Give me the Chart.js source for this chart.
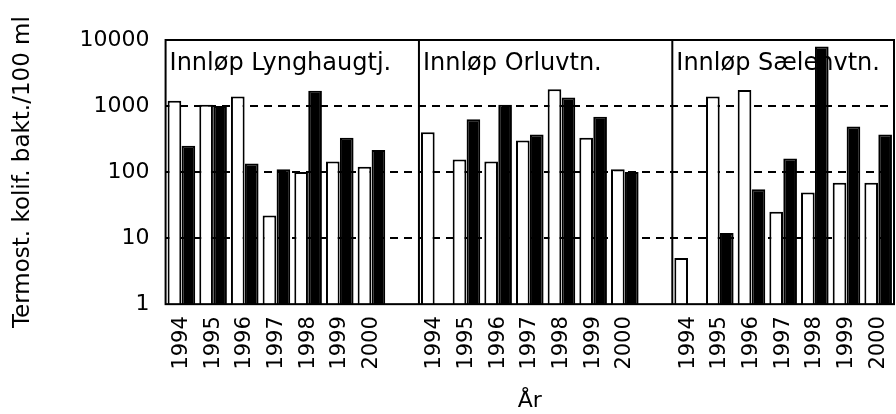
<!DOCTYPE html>
<html>
<head>
<meta charset="utf-8">
<script src="https://cdn.jsdelivr.net/npm/chart.js@4.4.0/dist/chart.umd.min.js"></script>
<style>
html, body { margin: 0; padding: 0; background: #fff; }
#wrap { width: 896px; height: 414px; }
</style>
</head>
<body>
<div id="wrap"><canvas id="myChart"></canvas></div>
<script>
// Termostabile koliforme bakterier per innløp, 1994-2000
const years = ['1994', '1995', '1996', '1997', '1998', '1999', '2000'];
const panelNames = ['Innløp Lynghaugtj.', 'Innløp Orluvtn.', 'Innløp Sælenvtn.'];
const yTicks = [1, 10, 100, 1000, 10000];

const whiteLyng = [1200, 1050, 1400, 22, 100, 145, 120];
const blackLyng = [250, 1000, 135, 110, 1700, 330, 215];
const whiteOrlu = [400, 155, 145, 300, 1800, 330, 110];
const blackOrlu = [null, 630, 1050, 370, 1350, 690, 100];
const whiteSael = [5, 1400, 1750, 25, 49, 69, 69];
const blackSael = [null, 12, 55, 160, 8000, 490, 370];

// one shared category axis, with an empty slot between the inlets
const labels = [].concat(years, [''], years, [''], years);
const whiteData = [].concat(whiteLyng, [null], whiteOrlu, [null], whiteSael);
const blackData = [].concat(blackLyng, [null], blackOrlu, [null], blackSael);

const FONT = 'DejaVu Sans';

const panels = {
    id: 'panels',
    beforeDatasetsDraw(chart) {
        const ctx = chart.ctx, x = chart.scales.x, a = chart.chartArea;
        const band = x.getPixelForValue(1) - x.getPixelForValue(0);
        ctx.save();
        ctx.font = '24px "' + FONT + '"';
        ctx.fillStyle = '#000';
        ctx.textBaseline = 'alphabetic';
        panelNames.forEach(function (name, p) {
            const left = x.getPixelForValue(p * (years.length + 1)) - band / 2;
            ctx.fillText(name, left + 4, a.top + 30);
        });
        ctx.restore();
    },
    afterDraw(chart) {
        const ctx = chart.ctx, x = chart.scales.x, a = chart.chartArea;
        const band = x.getPixelForValue(1) - x.getPixelForValue(0);
        ctx.save();
        ctx.strokeStyle = '#000';
        ctx.lineWidth = 2;
        ctx.strokeRect(a.left, a.top, a.right - a.left, a.bottom - a.top);
        for (let p = 1; p < panelNames.length; p++) {
            const xp = x.getPixelForValue(p * (years.length + 1)) - band / 2;
            ctx.beginPath();
            ctx.moveTo(xp, a.top);
            ctx.lineTo(xp, a.bottom);
            ctx.stroke();
        }
        ctx.restore();
    }
};

const ctx = document.getElementById('myChart');
new Chart(ctx, {
    type: 'bar',
    data: {
        labels: labels,
        datasets: [{
            data: whiteData,
            backgroundColor: '#fff',
            borderColor: '#000',
            borderWidth: 2,
            barPercentage: 0.98,
            categoryPercentage: 0.88
        }, {
            data: blackData,
            backgroundColor: '#000',
            borderColor: '#000',
            borderWidth: 2,
            barPercentage: 0.98,
            categoryPercentage: 0.88
        }]
    },
    options: {
        responsive: true,
        maintainAspectRatio: false,
        animation: false,
        layout: { padding: { left: 9, top: 40, right: 2, bottom: 0 } },
        plugins: { legend: { display: false }, tooltip: { enabled: false } },
        scales: {
            x: {
                grid: { display: false },
                border: { display: false },
                // rotated year labels should not push the plot edges inwards
                afterFit: function (s) { s.paddingLeft = 0; s.paddingRight = 0; },
                ticks: {
                    autoSkip: false,
                    minRotation: 90,
                    maxRotation: 90,
                    padding: 4,
                    color: '#000',
                    font: { family: FONT, size: 21 }
                },
                title: {
                    display: true,
                    text: 'År',
                    color: '#000',
                    font: { family: FONT, size: 22 },
                    padding: { top: 14, bottom: 0 }
                }
            },
            y: {
                type: 'logarithmic',
                min: 1,
                max: 10000,
                afterBuildTicks: function (s) {
                    s.ticks = yTicks.map(function (v) { return { value: v }; });
                },
                ticks: {
                    callback: function (v) { return String(v); },
                    color: '#000',
                    padding: 16,
                    font: { family: FONT, size: 22 }
                },
                grid: {
                    color: function (c) {
                        const v = c.tick ? c.tick.value : 0;
                        return (v === 1 || v === 10000) ? 'rgba(0,0,0,0)' : '#000';
                    },
                    lineWidth: 2,
                    drawTicks: false
                },
                border: { display: false, dash: [8, 6] },
                title: {
                    display: true,
                    text: 'Termost. kolif. bakt./100 ml',
                    color: '#000',
                    font: { family: FONT, size: 23 },
                    padding: { top: 0, bottom: 27 }
                }
            }
        }
    },
    plugins: [panels]
});
</script>
</body>
</html>
